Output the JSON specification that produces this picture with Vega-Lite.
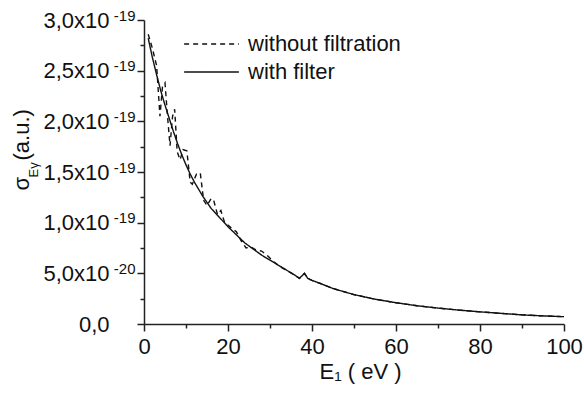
{
  "$schema": "https://vega.github.io/schema/vega-lite/v6.json",
  "width": 420,
  "height": 304,
  "autosize": {"type": "none"},
  "padding": {"left": 144, "top": 20, "right": 20, "bottom": 70},
  "background": "white",
  "config": {
    "view": {"stroke": null},
    "font": "Liberation Sans",
    "axis": {"grid": false, "domainColor": "#222", "tickColor": "#222", "domainWidth": 1.5, "tickWidth": 1.5, "labelColor": "#111", "titleColor": "#111", "labelFont": "Liberation Sans", "titleFont": "Liberation Sans", "labelFontSize": 22, "titleFontSize": 22, "titleFontWeight": "normal"}
  },
  "data": {"values": [
    {"E": 1.0, "s": 2.86e-19, "series": "without filtration"},
    {"E": 2.0, "s": 2.72e-19, "series": "without filtration"},
    {"E": 3.0, "s": 2.55e-19, "series": "without filtration"},
    {"E": 3.8, "s": 2.05e-19, "series": "without filtration"},
    {"E": 4.4, "s": 2.34e-19, "series": "without filtration"},
    {"E": 5.0, "s": 2.38e-19, "series": "without filtration"},
    {"E": 5.6, "s": 2.05e-19, "series": "without filtration"},
    {"E": 6.2, "s": 1.76e-19, "series": "without filtration"},
    {"E": 6.8, "s": 2.05e-19, "series": "without filtration"},
    {"E": 7.3, "s": 2.12e-19, "series": "without filtration"},
    {"E": 7.9, "s": 1.70e-19, "series": "without filtration"},
    {"E": 8.6, "s": 1.62e-19, "series": "without filtration"},
    {"E": 9.3, "s": 1.72e-19, "series": "without filtration"},
    {"E": 10.2, "s": 1.71e-19, "series": "without filtration"},
    {"E": 11.0, "s": 1.40e-19, "series": "without filtration"},
    {"E": 11.5, "s": 1.38e-19, "series": "without filtration"},
    {"E": 12.5, "s": 1.48e-19, "series": "without filtration"},
    {"E": 13.4, "s": 1.49e-19, "series": "without filtration"},
    {"E": 14.2, "s": 1.22e-19, "series": "without filtration"},
    {"E": 15.0, "s": 1.17e-19, "series": "without filtration"},
    {"E": 16.0, "s": 1.24e-19, "series": "without filtration"},
    {"E": 16.6, "s": 1.22e-19, "series": "without filtration"},
    {"E": 17.5, "s": 1.08e-19, "series": "without filtration"},
    {"E": 18.3, "s": 1.12e-19, "series": "without filtration"},
    {"E": 19.2, "s": 1.00e-19, "series": "without filtration"},
    {"E": 20.2, "s": 0.97e-19, "series": "without filtration"},
    {"E": 21.0, "s": 0.94e-19, "series": "without filtration"},
    {"E": 22.0, "s": 0.91e-19, "series": "without filtration"},
    {"E": 23.0, "s": 0.83e-19, "series": "without filtration"},
    {"E": 24.3, "s": 0.75e-19, "series": "without filtration"},
    {"E": 25.5, "s": 0.76e-19, "series": "without filtration"},
    {"E": 26.7, "s": 0.73e-19, "series": "without filtration"},
    {"E": 28.0, "s": 0.72e-19, "series": "without filtration"},
    {"E": 29.5, "s": 0.67e-19, "series": "without filtration"},
    {"E": 31.0, "s": 0.61e-19, "series": "without filtration"},
    {"E": 33.0, "s": 0.55e-19, "series": "without filtration"},
    {"E": 35.0, "s": 0.505e-19, "series": "without filtration"},
    {"E": 36.0, "s": 0.48e-19, "series": "without filtration"},
    {"E": 37.0, "s": 0.45e-19, "series": "without filtration"},
    {"E": 38.2, "s": 0.50e-19, "series": "without filtration"},
    {"E": 39.0, "s": 0.45e-19, "series": "without filtration"},
    {"E": 40.0, "s": 0.43e-19, "series": "without filtration"},
    {"E": 42.0, "s": 0.40e-19, "series": "without filtration"},
    {"E": 45.0, "s": 0.35e-19, "series": "without filtration"},
    {"E": 50.0, "s": 0.29e-19, "series": "without filtration"},
    {"E": 55.0, "s": 0.245e-19, "series": "without filtration"},
    {"E": 60.0, "s": 0.21e-19, "series": "without filtration"},
    {"E": 65.0, "s": 0.18e-19, "series": "without filtration"},
    {"E": 70.0, "s": 0.157e-19, "series": "without filtration"},
    {"E": 75.0, "s": 0.137e-19, "series": "without filtration"},
    {"E": 80.0, "s": 0.12e-19, "series": "without filtration"},
    {"E": 85.0, "s": 0.105e-19, "series": "without filtration"},
    {"E": 90.0, "s": 0.09e-19, "series": "without filtration"},
    {"E": 95.0, "s": 0.08e-19, "series": "without filtration"},
    {"E": 100.0, "s": 0.072e-19, "series": "without filtration"},
    {"E": 1.0, "s": 2.82e-19, "series": "with filter"},
    {"E": 2.0, "s": 2.63e-19, "series": "with filter"},
    {"E": 3.0, "s": 2.46e-19, "series": "with filter"},
    {"E": 4.0, "s": 2.30e-19, "series": "with filter"},
    {"E": 5.0, "s": 2.16e-19, "series": "with filter"},
    {"E": 6.0, "s": 2.03e-19, "series": "with filter"},
    {"E": 7.0, "s": 1.90e-19, "series": "with filter"},
    {"E": 8.0, "s": 1.78e-19, "series": "with filter"},
    {"E": 9.0, "s": 1.67e-19, "series": "with filter"},
    {"E": 10.0, "s": 1.57e-19, "series": "with filter"},
    {"E": 11.0, "s": 1.48e-19, "series": "with filter"},
    {"E": 12.0, "s": 1.40e-19, "series": "with filter"},
    {"E": 14.0, "s": 1.26e-19, "series": "with filter"},
    {"E": 16.0, "s": 1.14e-19, "series": "with filter"},
    {"E": 18.0, "s": 1.05e-19, "series": "with filter"},
    {"E": 20.0, "s": 0.96e-19, "series": "with filter"},
    {"E": 22.0, "s": 0.88e-19, "series": "with filter"},
    {"E": 24.0, "s": 0.80e-19, "series": "with filter"},
    {"E": 26.0, "s": 0.74e-19, "series": "with filter"},
    {"E": 28.0, "s": 0.68e-19, "series": "with filter"},
    {"E": 30.0, "s": 0.63e-19, "series": "with filter"},
    {"E": 32.0, "s": 0.58e-19, "series": "with filter"},
    {"E": 34.0, "s": 0.53e-19, "series": "with filter"},
    {"E": 36.0, "s": 0.48e-19, "series": "with filter"},
    {"E": 37.0, "s": 0.45e-19, "series": "with filter"},
    {"E": 38.2, "s": 0.50e-19, "series": "with filter"},
    {"E": 39.0, "s": 0.45e-19, "series": "with filter"},
    {"E": 40.0, "s": 0.43e-19, "series": "with filter"},
    {"E": 42.0, "s": 0.40e-19, "series": "with filter"},
    {"E": 45.0, "s": 0.35e-19, "series": "with filter"},
    {"E": 50.0, "s": 0.29e-19, "series": "with filter"},
    {"E": 55.0, "s": 0.245e-19, "series": "with filter"},
    {"E": 60.0, "s": 0.21e-19, "series": "with filter"},
    {"E": 65.0, "s": 0.18e-19, "series": "with filter"},
    {"E": 70.0, "s": 0.157e-19, "series": "with filter"},
    {"E": 75.0, "s": 0.137e-19, "series": "with filter"},
    {"E": 80.0, "s": 0.12e-19, "series": "with filter"},
    {"E": 85.0, "s": 0.105e-19, "series": "with filter"},
    {"E": 90.0, "s": 0.09e-19, "series": "with filter"},
    {"E": 95.0, "s": 0.08e-19, "series": "with filter"},
    {"E": 100.0, "s": 0.072e-19, "series": "with filter"}
  ]},
  "encoding": {
    "x": {
      "field": "E", "type": "quantitative",
      "scale": {"domain": [0, 100], "nice": false, "zero": false},
      "axis": {
        "values": [0, 10, 20, 30, 40, 50, 60, 70, 80, 90, 100],
        "labelExpr": "datum.value % 20 === 0 ? datum.label : ''",
        "tickSize": {"condition": {"test": "datum.value % 20 === 0", "value": 7}, "value": 4},
        "labelPadding": 5,
        "labelFlush": false,
        "title": "E₁ ( eV )",
        "titleX": 216,
        "titlePadding": 4
      }
    }
  },
  "layer": [
    {
      "mark": {"type": "line", "color": "#111", "strokeWidth": 1.4},
      "encoding": {
        "y": {
          "field": "s", "type": "quantitative",
          "scale": {"domain": [0, 3e-19], "nice": false},
          "axis": {
            "orient": "left",
            "values": [0, 2.5e-20, 5e-20, 7.5e-20, 1e-19, 1.25e-19, 1.5e-19, 1.75e-19, 2e-19, 2.25e-19, 2.5e-19, 2.75e-19, 3e-19],
            "labelExpr": "datum.value < 1e-21 ? '0,0' : (round(datum.value / 2.5e-20) % 2 !== 0 ? '' : (datum.value < 9e-20 ? replace(format(datum.value * 1e20, '.1f'), '.', ',') + 'x10' : replace(format(datum.value * 1e19, '.1f'), '.', ',') + 'x10'))",
            "tickSize": {"condition": {"test": "round(datum.value / 2.5e-20) % 2 === 0", "value": 7}, "value": 4},
            "labelPadding": 28,
            "labelFlush": false,
            "title": "(a.u.)",
            "titleAngle": -90,
            "titleAlign": "left",
            "titleBaseline": "alphabetic",
            "titleX": -116,
            "titleY": 140
          }
        },
        "strokeDash": {
          "field": "series", "type": "nominal",
          "scale": {"domain": ["without filtration", "with filter"], "range": [[5, 4], [1, 0]]},
          "legend": {
            "title": null,
            "orient": "none",
            "legendX": 39,
            "legendY": 10,
            "symbolType": "stroke",
            "symbolSize": 3000,
            "symbolStrokeWidth": 1.4,
            "symbolStrokeColor": "#111",
            "labelFontSize": 22,
            "labelFont": "Liberation Sans",
            "labelColor": "#111",
            "clipHeight": 28,
            "rowPadding": 0,
            "labelOffset": 8
          }
        }
      }
    },
    {
      "mark": {"type": "point", "opacity": 0},
      "encoding": {
        "y": {
          "field": "s", "type": "quantitative",
          "axis": {
            "orient": "left",
            "values": [5e-20, 1e-19, 1.5e-19, 2e-19, 2.5e-19, 3e-19],
            "labelExpr": "datum.value < 9e-20 ? '-20' : '-19'",
            "domain": false,
            "ticks": false,
            "labelFontSize": 15,
            "labelPadding": 9,
            "labelBaseline": "alphabetic",
            "labelDy": 1,
            "labelFlush": false,
            "title": "Eγ",
            "titleFontSize": 13,
            "titleAngle": -90,
            "titleAlign": "left",
            "titleBaseline": "alphabetic",
            "titleX": -107,
            "titleY": 157
          }
        }
      }
    },
    {
      "mark": {"type": "point", "opacity": 0},
      "encoding": {
        "y": {
          "field": "s", "type": "quantitative",
          "axis": {
            "orient": "left",
            "labels": false,
            "domain": false,
            "ticks": false,
            "title": "σ",
            "titleAngle": -90,
            "titleAlign": "left",
            "titleBaseline": "alphabetic",
            "titleX": -116,
            "titleY": 170
          }
        }
      }
    }
  ],
  "resolve": {"axis": {"y": "independent"}}
}
